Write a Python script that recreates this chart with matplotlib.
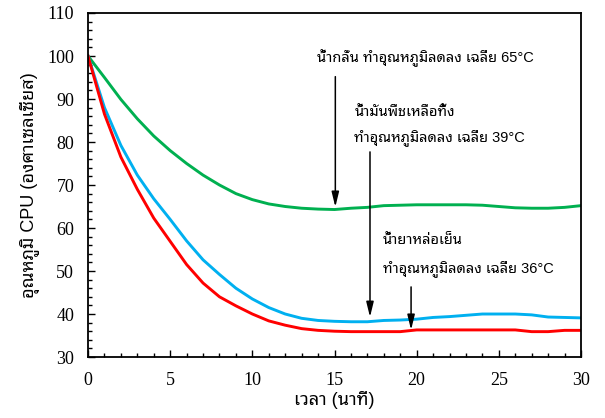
import matplotlib
matplotlib.use("Agg")
import matplotlib.pyplot as plt
from matplotlib.ticker import MultipleLocator

# ---- data ----
minutes = list(range(0, 31))
distilled_water = [100, 95.0, 89.9, 85.4, 81.4, 78.0, 75.0, 72.3, 70.0, 68.0,
                   66.6, 65.6, 65.0, 64.6, 64.4, 64.3, 64.6, 64.8, 65.2, 65.3,
                   65.4, 65.4, 65.4, 65.4, 65.3, 65.0, 64.7, 64.6, 64.6, 64.8, 65.2]
waste_oil = [100, 88.0, 79.2, 72.3, 66.8, 62.0, 57.0, 52.6, 49.2, 46.0,
             43.5, 41.5, 40.0, 39.0, 38.5, 38.3, 38.2, 38.2, 38.5, 38.6,
             38.8, 39.2, 39.4, 39.7, 40.0, 40.0, 40.0, 39.8, 39.3, 39.2, 39.1]
coolant = [100, 86.5, 76.5, 69.0, 62.3, 56.9, 51.5, 47.2, 44.0, 41.9,
           40.0, 38.4, 37.4, 36.6, 36.2, 36.0, 35.9, 35.9, 35.9, 35.9,
           36.3, 36.3, 36.3, 36.3, 36.3, 36.3, 36.3, 35.9, 35.9, 36.2, 36.2]

xlabel = "เวลา (นาที)"
ylabel = "อุณหภูมิ CPU (องศาเซลเซียส)"
note_water = "น้ำกลั่น ทำอุณหภูมิลดลง เฉลี่ย 65°C"
note_oil = ["น้ำมันพืชเหลือทิ้ง", "ทำอุณหภูมิลดลง เฉลี่ย 39°C"]
note_coolant = ["น้ำยาหล่อเย็น", "ทำอุณหภูมิลดลง เฉลี่ย 36°C"]

THAI = ["Liberation Sans", "Noto Sans Thai Looped"]
SERIF = "Liberation Serif"

fig = plt.figure(figsize=(6.05, 4.18), dpi=100)
ax = fig.add_axes([0.1455, 0.1459, 0.9603 - 0.1455, 0.9689 - 0.1459])

ax.plot(minutes, distilled_water, color="#00B050", lw=2.1)
ax.plot(minutes, waste_oil, color="#00B0F0", lw=2.1)
ax.plot(minutes, coolant, color="#FF0000", lw=2.1)

ax.set_xlim(0, 30)
ax.set_ylim(30, 110)
ax.xaxis.set_major_locator(MultipleLocator(5))
ax.xaxis.set_minor_locator(MultipleLocator(1))
ax.yaxis.set_major_locator(MultipleLocator(10))
ax.yaxis.set_minor_locator(MultipleLocator(2))
ax.tick_params(which="both", direction="in", top=False, right=False,
               width=1.0, colors="black")
ax.tick_params(which="major", length=5)
ax.tick_params(which="minor", length=3)
ax.tick_params(axis="x", which="major", pad=11)
ax.tick_params(axis="y", which="major", pad=10)
for lab in ax.get_xticklabels() + ax.get_yticklabels():
    lab.set_fontfamily(SERIF)
    lab.set_fontsize(13)
for s in ax.spines.values():
    s.set_linewidth(1.3)
    s.set_color("black")

ax.set_xlabel(xlabel, family=THAI, fontsize=13, labelpad=1)
ax.set_ylabel(ylabel, family=THAI, fontsize=13, labelpad=5)

fs = 10.5
ax.text(13.92, 99.5, note_water, family=THAI, fontsize=fs, ha="left", va="center")
ax.text(16.21, 87.05, note_oil[0], family=THAI, fontsize=fs, ha="left", va="center")
ax.text(16.21, 81.1, note_oil[1], family=THAI, fontsize=fs, ha="left", va="center")
ax.text(17.94, 57.2, note_coolant[0], family=THAI, fontsize=fs, ha="left", va="center")
ax.text(17.94, 50.6, note_coolant[1], family=THAI, fontsize=fs, ha="left", va="center")

arrow_style = dict(arrowstyle="-|>,head_length=0.9,head_width=0.22",
                   color="black", lw=1.1, shrinkA=0, shrinkB=0)
ax.annotate("", xy=(15.05, 64.9), xytext=(15.05, 95.2), arrowprops=arrow_style)
ax.annotate("", xy=(17.16, 39.3), xytext=(17.16, 77.7), arrowprops=arrow_style)
ax.annotate("", xy=(19.66, 36.3), xytext=(19.66, 46.3), arrowprops=arrow_style)

fig.savefig("out.png", dpi=100)
